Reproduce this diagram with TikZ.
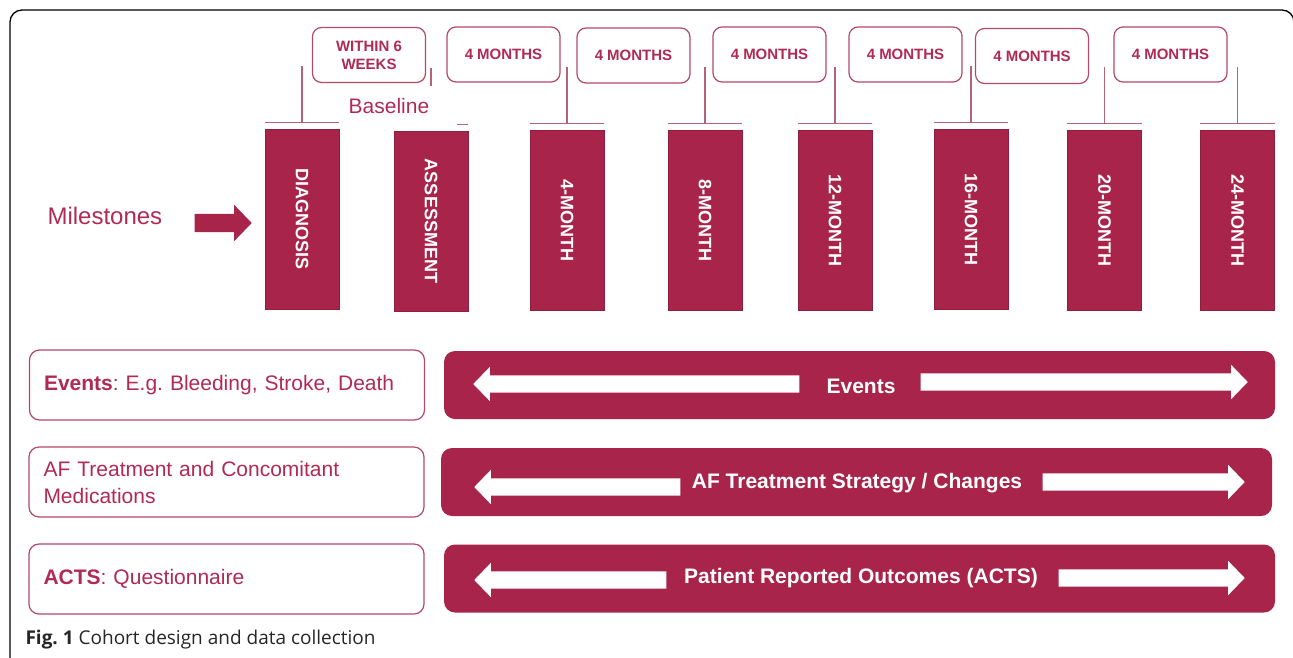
\documentclass[tikz,border=0pt]{standalone}
\usepackage{fontspec}
\setmainfont{Liberation Sans}
\newfontfamily\capfont{Open Sans}
\usetikzlibrary{shapes.arrows}
\frenchspacing

\definecolor{maroon}{RGB}{168,36,74}
\definecolor{rosetext}{RGB}{176,42,84}
\definecolor{boxline}{RGB}{180,72,102}
\definecolor{tickline}{RGB}{182,98,120}

\tikzset{
  milestone/.style={fill=maroon, draw=maroon!85!black, line width=0.8pt, rotate=-90,
    minimum width=180pt, minimum height=74pt, inner sep=0pt, text=white,
    font=\bfseries\fontsize{18}{18}\selectfont},
  tick/.style={draw=tickline, line width=1.6pt},
  gapbox/.style={draw=boxline, fill=white, rounded corners=9pt, line width=1.2pt,
    minimum width=113pt, minimum height=55pt, inner sep=0pt, align=center,
    text=rosetext, font=\bfseries\fontsize{15}{18}\selectfont},
  rowbox/.style={draw=boxline, fill=white, rounded corners=10pt, line width=1.2pt,
    text width=366pt, inner xsep=14.5pt, minimum height=70pt, align=left,
    text=rosetext, font=\fontsize{21}{27}\selectfont},
  rowbar/.style={fill=maroon, rounded corners=11pt, minimum width=831pt,
    minimum height=68pt, inner sep=0pt},
  bartext/.style={text=white, font=\bfseries\fontsize{21}{21}\selectfont},
  blockarrow/.style={single arrow, draw=none, inner xsep=0pt, inner ysep=8.5pt,
    single arrow head extend=8.5pt, single arrow tip angle=92},
  whitearrow/.style={blockarrow, fill=white}
}

\begin{document}
\begin{tikzpicture}[x=1pt, y=-1pt]
\useasboundingbox (0,0) rectangle (1293,657);
\draw[rounded corners=12pt, line width=1.3pt] (10,10) rectangle (1294,700);

% milestones
\node[anchor=west, text=rosetext, font=\fontsize{24}{24}\selectfont] (mstext) at (44,216) {Milestones};
\node[blockarrow, fill=maroon, inner ysep=9pt, single arrow head extend=9pt,
  minimum height=57pt, anchor=tip] (msarrow) at (252,223) {};

\node[milestone] (diag) at (302,219) {DIAGNOSIS};
\node[milestone] (assess) at (431,221) {ASSESSMENT};
\node[milestone] (m4) at (567,220) {4-MONTH};
\node[milestone] (m8) at (705,220) {8-MONTH};
\node[milestone] (m12) at (835,220) {12-MONTH};
\node[milestone] (m16) at (971,219) {16-MONTH};
\node[milestone] (m20) at (1104.5,220) {20-MONTH};
\node[milestone] (m24) at (1237.5,220) {24-MONTH};

\foreach \b in {diag,m4,m8,m12,m16,m20,m24}{
  \draw[tick] ([yshift=6pt]\b.south west) -- ([yshift=6pt]\b.north west);
  \draw[tick] ([yshift=6pt]\b.west) -- ++(0,-57);
}
% assessment: only the ends show
\draw[tick] ([yshift=6pt]assess.north west) -- ++(-11,0);
\draw[tick] (assess.west |- 0,68) -- (assess.west |- 0,86);

\node[text=rosetext, font=\fontsize{21}{21}\selectfont] (baseline) at (389,106) {Baseline};

% intervals
\node[gapbox] (wk6) at (369,55) {WITHIN 6\\WEEKS};
\node[gapbox] (gap1) at (503.5,54.5) {4 MONTHS};
\node[gapbox] (gap2) at (633.5,55.5) {4 MONTHS};
\node[gapbox] (gap3) at (769.5,54.5) {4 MONTHS};
\node[gapbox] (gap4) at (905.5,54.5) {4 MONTHS};
\node[gapbox] (gap5) at (1032,56) {4 MONTHS};
\node[gapbox] (gap6) at (1170.5,54.5) {4 MONTHS};

% data collection rows
\node[rowbox] (evbox) at (227,385) {\textbf{Events}: E.g. Bleeding, Stroke, Death};
\node[rowbox] (afbox) at (226.5,482) {AF Treatment and Concomitant\\Medications};
\node[rowbox] (actsbox) at (226.5,579) {\textbf{ACTS}: Questionnaire};

\node[rowbar] (evbar) at (859.5,385) {};
\node[rowbar] (afbar) at (856.5,482) {};
\node[rowbar] (actsbar) at (859.5,578.5) {};

\node[bartext] (evtxt) at (861,386) {Events};
\node[whitearrow, shape border rotate=180, minimum height=326pt, anchor=tip] (evl) at (473,384) {};
\node[whitearrow, minimum height=327pt, anchor=tip] (evr) at (1248,382) {};

\node[bartext] (aftxt) at (857,483) {AF Treatment Strategy / Changes};
\node[whitearrow, shape border rotate=180, minimum height=206pt, anchor=tip] (afl) at (474,487) {};
\node[whitearrow, minimum height=202pt, anchor=tip] (afr) at (1245,482) {};

\node[bartext] (actstxt) at (861,578) {Patient Reported Outcomes (ACTS)};
\node[whitearrow, shape border rotate=180, minimum height=192pt, anchor=tip] (actsl) at (474,580) {};
\node[whitearrow, minimum height=186pt, anchor=tip] (actsr) at (1245,578) {};

\node[anchor=west, text=black!85, font=\capfont\fontsize{19}{19}\selectfont] (caption) at (22,640)
  {\textbf{Fig. 1} Cohort design and data collection};
\end{tikzpicture}
\end{document}
